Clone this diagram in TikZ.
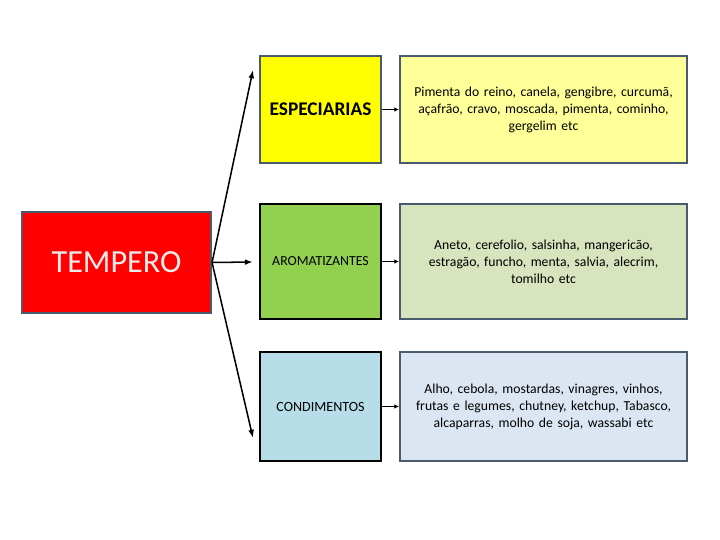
\documentclass[tikz,border=0pt]{standalone}
\usepackage{fontspec}
\setmainfont{Carlito}
\usetikzlibrary{arrows.meta}

\definecolor{frame}{HTML}{4A5B70}
\definecolor{catyellow}{HTML}{FFFF00}
\definecolor{catgreen}{HTML}{92D050}
\definecolor{catblue}{HTML}{B7DEE8}
\definecolor{descyellow}{HTML}{FFFF99}
\definecolor{descgreen}{HTML}{D7E4BD}
\definecolor{descblue}{HTML}{DCE6F2}

\begin{document}
\begin{tikzpicture}[x=0.03cm, y=-0.03cm,
    box/.style={draw=frame, line width=1.8pt, align=center, inner sep=2pt},
    catbox/.style={box, minimum width=3.63cm, text width=3.5cm},
    descbox/.style={box, minimum width=8.61cm, text width=8.4cm, font=\fontsize{11.7}{14.5}\selectfont},
    link/.style={-{Latex[length=7pt, width=5pt]}, line width=1.3pt},
    short/.style={-{Latex[length=4pt, width=4pt]}, line width=1.3pt}]
        \useasboundingbox (0,0) rectangle (720,540);

        \node[box, fill=red, text=white!92!black, minimum width=5.67cm, minimum height=3.03cm, font=\fontsize{27.5}{30}\selectfont] (tempero) at (116.5,262.5) {TEMPERO};

        \node[catbox, fill=catyellow, minimum height=3.21cm, font=\bfseries\fontsize{16.5}{18}\selectfont] (esp) at (320.5,109.5) {ESPECIARIAS};
        \node[catbox, fill=catgreen, draw=black, minimum height=3.45cm, font=\fontsize{11.8}{14}\selectfont] (aro) at (320.5,261.5) {AROMATIZANTES};
        \node[catbox, fill=catblue, draw=black, minimum height=3.27cm, font=\fontsize{12}{14}\selectfont] (cond) at (320.5,406.5) {CONDIMENTOS};

        \node[descbox, fill=descyellow, minimum height=3.21cm] (espdesc) at (543.5,109.5) {Pimenta do reino, canela, gengibre, curcumã,\\ açafrão, cravo, moscada, pimenta, cominho,\\ gergelim etc};
        \node[descbox, fill=descgreen, minimum height=3.45cm] (arodesc) at (543.5,261.5) {Aneto, cerefolio, salsinha, mangericão,\\ estragão, funcho, menta, salvia, alecrim,\\ tomilho etc};
        \node[descbox, fill=descblue, minimum height=3.27cm] (conddesc) at (543.5,406.5) {Alho, cebola, mostardas, vinagres, vinhos,\\ frutas e legumes, chutney, ketchup, Tabasco,\\ alcaparras, molho de soja, wassabi etc};

        % arrows from TEMPERO
        \coordinate (topend) at (253,70);
        \coordinate (midend) at (253,262);
        \coordinate (lowend) at (253,438);
        \draw[link] (tempero.east) -- (topend);
        \draw[link] (tempero.east) -- (midend);
        \draw[link] (tempero.east) -- (lowend);

        \draw[short] (esp) -- (espdesc);
        \draw[short] (aro) -- (arodesc);
        \draw[short] (cond) -- (conddesc);
    \end{tikzpicture}
\end{document}
